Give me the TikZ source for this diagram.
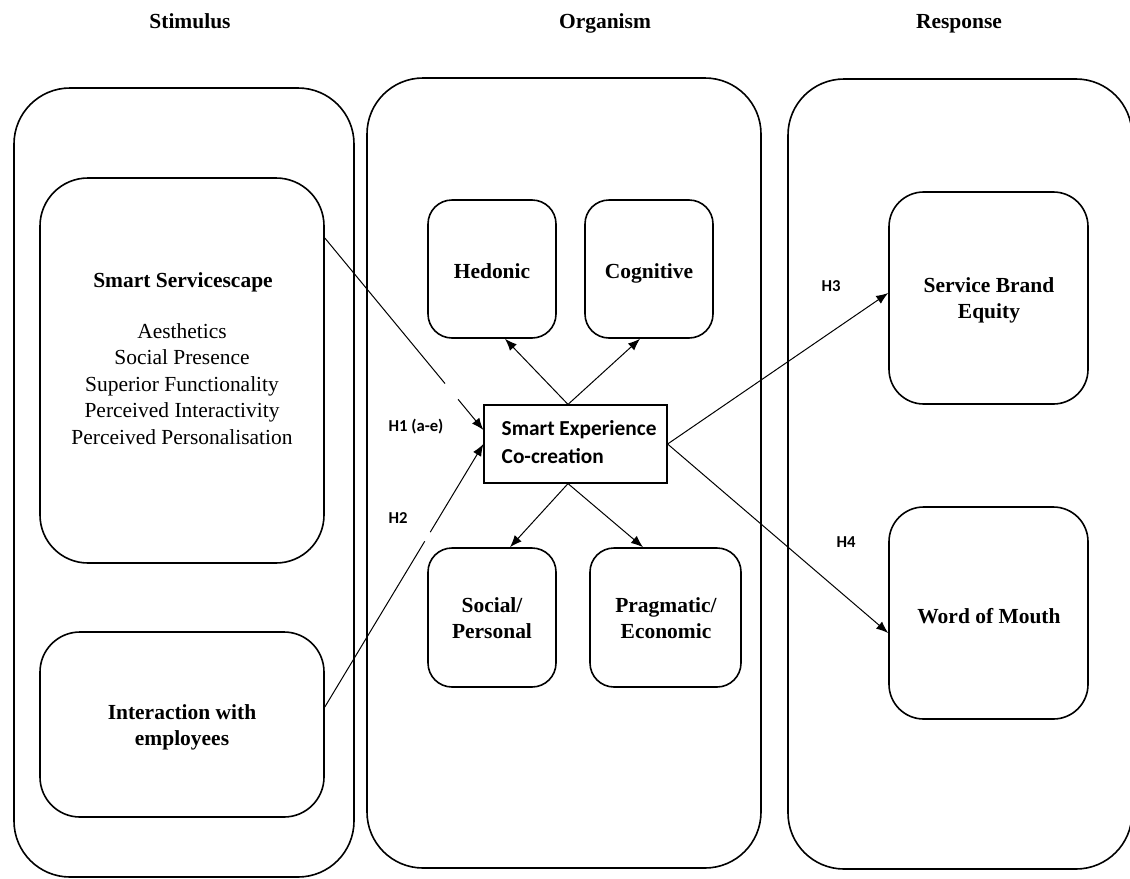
\documentclass[tikz,border=0pt]{standalone}
\usepackage{fontspec}
\setmainfont{Liberation Serif}
\newfontfamily\calib{Carlito}
\usetikzlibrary{arrows.meta,calc}
\begin{document}
\begin{tikzpicture}[x=0.75pt,y=-0.75pt,
  panel/.style={draw, line width=1.2pt, rounded corners=42pt, inner sep=0pt},
  rbox/.style={draw, line width=1.2pt, inner sep=0pt},
  lbl/.style={font=\bfseries\fontsize{16.1}{20}\selectfont, align=center, yshift=-2.3pt,
    execute at begin node=\strut, execute at end node=\strut},
  lst/.style={font=\fontsize{16.1}{19.9}\selectfont, align=center, yshift=-2.8pt,
    execute at begin node=\strut, execute at end node=\strut},
  hl/.style={font=\calib\bfseries\fontsize{12.5}{15}\selectfont, yshift=-1.5pt,
    execute at begin node=\strut},
  arr/.style={-{Latex[length=9pt,width=7pt]}, line width=0.75pt},
  ln/.style={line width=0.75pt}
]
\useasboundingbox (0,0) rectangle (1130,878);

% titles
\node[lbl] (tS) at (190,20) {Stimulus};
\node[lbl] (tO) at (605,20) {Organism};
\node[lbl] (tR) at (959,20) {Response};

% panels
\node[panel, minimum width=255pt, minimum height=591.75pt] (pS) at (184,482.5) {};
\node[panel, minimum width=295.5pt, minimum height=592.5pt] (pO) at (564,473) {};
\node[panel, minimum width=258pt, minimum height=592.5pt] (pR) at (960,474) {};

% stimulus boxes
\node[rbox, rounded corners=36pt, minimum width=213pt, minimum height=288.75pt] (ss) at (182,370.5) {};
\node[lbl] (sst) at (183,279) {Smart Servicescape};
\node[lst] (ssl) at (182,384) {Aesthetics\\Social Presence\\Superior Functionality\\Perceived Interactivity\\Perceived Personalisation};
\node[rbox, rounded corners=30pt, minimum width=213pt, minimum height=138.75pt] (iwe) at (182,724.5) {};
\node[lbl] (iwet) at (182,726) {Interaction with\\employees};

% organism boxes
\node[rbox, rounded corners=18pt, minimum width=96pt, minimum height=103.5pt] (hed) at (492,269) {};
\node[lbl] (hedt) at (492,270) {Hedonic};
\node[rbox, rounded corners=18pt, minimum width=96pt, minimum height=103.5pt] (cog) at (649,269) {};
\node[lbl] (cogt) at (649,270) {Cognitive};
\node[rbox, rounded corners=18pt, minimum width=96pt, minimum height=104.25pt] (soc) at (492,617.5) {};
\node[lbl] (soct) at (492,619) {Social/\\Personal};
\node[rbox, rounded corners=18pt, minimum width=113.25pt, minimum height=104.25pt] (prag) at (665.5,617.5) {};
\node[lbl] (pragt) at (666,619) {Pragmatic/\\Economic};
\node[draw, line width=0.9pt, inner sep=0pt, minimum width=137.25pt, minimum height=58.5pt] (sec) at (575.5,444) {};
\node[font=\calib\bfseries\fontsize{16}{21}\selectfont, align=left, anchor=west, yshift=-2.8pt,
  execute at begin node=\strut, execute at end node=\strut] (sect) at (497,442) {Smart Experience\\Co-creation};

% response boxes
\node[rbox, rounded corners=26pt, minimum width=149.25pt, minimum height=159pt] (sbe) at (988.5,298) {};
\node[lbl] (sbet) at (989,299) {Service Brand\\Equity};
\node[rbox, rounded corners=26pt, minimum width=149.25pt, minimum height=159pt] (wom) at (988.5,613) {};
\node[lbl] (womt) at (989,615) {Word of Mouth};

% hypothesis labels
\node[hl] (h1) at (416,425) {H1 (a-e)};
\node[hl] (h2) at (398,517) {H2};
\node[hl] (h3) at (831,285) {H3};
\node[hl] (h4) at (846,541) {H4};

% connectors inside organism
\coordinate (secN) at ($(sec.north)+(-7.5,0)$);
\coordinate (secS) at ($(sec.south)+(-7.5,0)$);
\draw[arr] (secN) -- ($(hed.south)+(13,0)$);
\draw[arr] (secN) -- ($(cog.south)+(-9,0)$);
\draw[arr] (secS) -- ($(soc.north)+(18,0)$);
\draw[arr] (secS) -- ($(prag.north)+(-22.5,0)$);

% H1 and H2 (with small gaps)
\coordinate (h1s) at ($(ss.east)+(0,-132.5)$);
\coordinate (h1e) at ($(sec.west)+(0,-14)$);
\coordinate (h2s) at ($(iwe.east)+(0,-17.5)$);
\coordinate (h2e) at (sec.west);
\draw[ln] (h1s) -- ($(h1s)!0.758!(h1e)$);
\draw[arr] ($(h1s)!0.84!(h1e)$) -- (h1e);
\draw[ln] (h2s) -- ($(h2s)!0.63!(h2e)$);
\draw[arr] ($(h2s)!0.665!(h2e)$) -- (h2e);

% H3 and H4
\draw[arr] (sec.east) -- ($(sbe.west)+(0,-5)$);
\draw[arr] (sec.east) -- ($(wom.west)+(0,20)$);
\end{tikzpicture}
\end{document}
